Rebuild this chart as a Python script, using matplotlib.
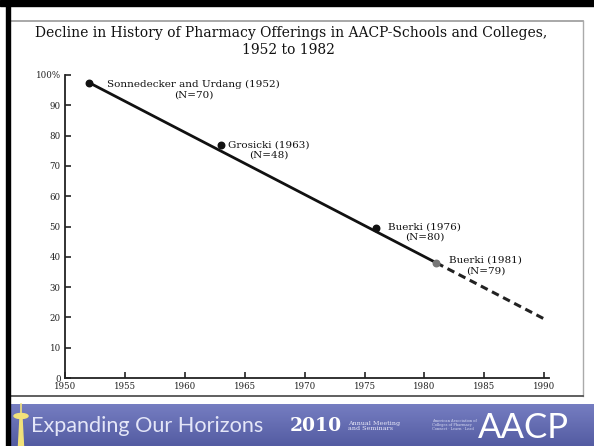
import numpy as np
import matplotlib.pyplot as plt
from matplotlib.patches import Rectangle, Polygon, Ellipse

# data
study_years = [1952, 1963, 1976, 1981]
study_pct = [97.5, 77, 49.5, 38]
study_names = ["Sonnedecker and Urdang (1952)", "Grosicki (1963)", "Buerki (1976)", "Buerki (1981)"]
study_n = [70, 48, 80, 79]
trend_years = [1952, 1981]
trend_pct = [97.5, 38]
proj_years = [1981, 1990]
proj_pct = [38, 19.5]
xticks = [1950, 1955, 1960, 1965, 1970, 1975, 1980, 1985, 1990]
yticks = [0, 10, 20, 30, 40, 50, 60, 70, 80, 90, 100]
ylabels = ["0", "10", "20", "30", "40", "50", "60", "70", "80", "90", "100%"]

W, H = 594, 446
fig = plt.figure(figsize=(W / 100, H / 100), dpi=100)
fig.patch.set_facecolor("white")

def fx(px): return px / W
def fy(py): return 1 - py / H

# slide frame
fig.patches.append(Rectangle((0, fy(6)), 1, 6 / H, transform=fig.transFigure, color="black", zorder=5))
fig.patches.append(Rectangle((fx(6), 0), 3.5 / W, 1, transform=fig.transFigure, color="black", zorder=5))
fig.add_artist(plt.Line2D([fx(9), fx(583)], [fy(21), fy(21)], transform=fig.transFigure, color="#999999", lw=1.2))
fig.add_artist(plt.Line2D([fx(583), fx(583)], [fy(21), fy(396)], transform=fig.transFigure, color="#aaaaaa", lw=1.0))
fig.add_artist(plt.Line2D([fx(9), fx(583)], [fy(396), fy(396)], transform=fig.transFigure, color="#444444", lw=1.2))

# title
serif = "DejaVu Serif"
fig.text(fx(291), fy(33), "Decline in History of Pharmacy Offerings in AACP-Schools and Colleges,",
         ha="center", va="center", fontsize=10, family=serif, color="#111111")
fig.text(fx(288), fy(50), "1952 to 1982", ha="center", va="center", fontsize=10, family=serif, color="#111111")

# chart
ax = fig.add_axes([fx(65), fy(378), fx(549) - fx(65), fy(75) - fy(378)])
ax.set_xlim(1950, 1990.4)
ax.set_ylim(0, 100)
for s in ["top", "right"]:
    ax.spines[s].set_visible(False)
ax.spines["left"].set_linewidth(1.3)
ax.spines["bottom"].set_linewidth(1.3)
ax.spines["left"].set_color("#222222")
ax.spines["bottom"].set_color("#222222")
ax.set_xticks(xticks)
ax.set_xticklabels([str(x) for x in xticks])
ax.set_yticks(yticks)
ax.set_yticklabels(ylabels)
ax.tick_params(axis="both", direction="in", length=4, width=1.2, color="#222222",
               labelsize=6.2, pad=3, labelcolor="#222222")
for lab in ax.get_xticklabels() + ax.get_yticklabels():
    lab.set_family(serif)
ax.patch.set_alpha(0)

ax.plot(trend_years, trend_pct, color="#111111", lw=2.0, solid_capstyle="butt")
ax.plot(proj_years, proj_pct, color="#222222", lw=2.2, dashes=(2.5, 1.6))
ax.scatter(study_years[:-1], study_pct[:-1], s=22, color="#111111", zorder=3)
ax.scatter(study_years[-1:], study_pct[-1:], s=22, color="#777777", zorder=3)

label_offsets = [(18, -7), (7, -5.5), (12, -4), (13, -2.5)]
for yr, p, name, n, off in zip(study_years, study_pct, study_names, study_n, label_offsets):
    ax.annotate(f"{name}\n(N={n})", (yr, p), xytext=off, textcoords="offset pixels",
                ha="left", va="center", multialignment="center", linespacing=1.2,
                fontsize=7.5, family=serif, color="#111111")

# banner
bax = fig.add_axes([fx(9.5), 0, 1 - fx(9.5), fy(404)])
grad = np.linspace(0, 1, 50)[:, None]
top = np.array([118, 126, 194]) / 255
bot = np.array([84, 92, 162]) / 255
img = top[None, None, :] * (1 - grad[:, :, None]) + bot[None, None, :] * grad[:, :, None]
img = np.repeat(img, 2, axis=1)
bax.imshow(img, aspect="auto", extent=[0, 1, 0, 1])
bax.set_axis_off()

# space needle
yl = "#f2e27a"
fig.patches.append(Polygon([(fx(18.5), fy(446)), (fx(23.5), fy(446)), (fx(22), fy(418)), (fx(20), fy(418))],
                           closed=True, transform=fig.transFigure, color=yl, zorder=6))
fig.patches.append(Ellipse((fx(21), fy(416)), 14 / W, 5 / H, transform=fig.transFigure, color=yl, zorder=6))
fig.add_artist(plt.Line2D([fx(21), fx(21)], [fy(404), fy(414)], transform=fig.transFigure, color=yl, lw=1.2, zorder=6))

sans = ["Lato", "DejaVu Sans"]
fig.text(fx(31), fy(426), "Expanding Our Horizons", ha="left", va="center", fontsize=15.6,
         family=sans, fontweight="normal", color="#e4e6f8")
fig.text(fx(290), fy(426), "2010", ha="left", va="center", fontsize=13.5, family=serif,
         fontweight="bold", color="white")
fig.text(fx(348), fy(426), "Annual Meeting\nand Seminars", ha="left", va="center", fontsize=4.6,
         family=serif, color="#e8e8f8", linespacing=1.0)
fig.text(fx(432), fy(425), "American Association of\nColleges of Pharmacy\nConnect \u00b7 Learn \u00b7 Lead", ha="left",
         va="center", fontsize=2.6, family=serif, color="#dcdff5", linespacing=1.05)
fig.text(fx(478), fy(428), "AACP", ha="left", va="center", fontsize=25, family=sans,
         fontweight="normal", color="white")

fig.savefig("out.png", dpi=100)
